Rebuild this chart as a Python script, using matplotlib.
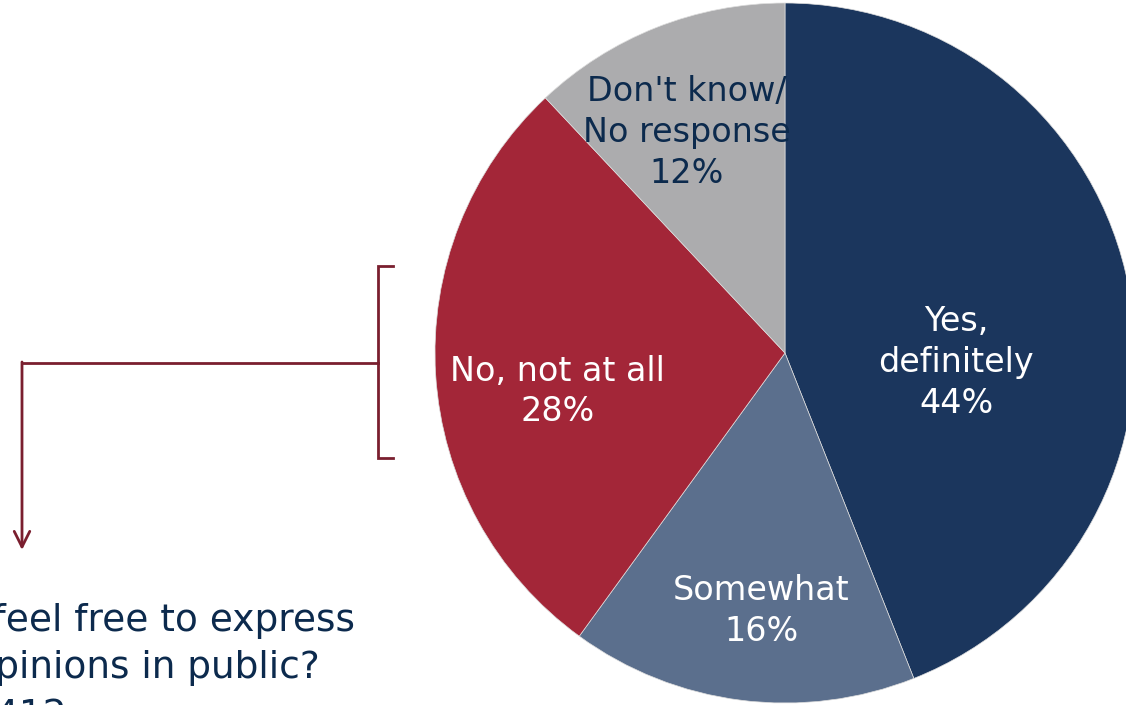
import numpy as np
import matplotlib
matplotlib.use("Agg")
import matplotlib.pyplot as plt

labels = ["Yes,\ndefinitely", "Somewhat", "No, not at all", "Don't know/\nNo response"]
values = [44, 16, 28, 12]
colors = ["#1b365d", "#5b6f8d", "#a32638", "#acacae"]
text_colors = ["white", "white", "white", "#0c2a4d"]
question = ["Do you feel free to express", "your opinions in public?", "n=412"]

W, H = 1126, 705
fig = plt.figure(figsize=(W / 100, H / 100), dpi=100)
ax = fig.add_axes([0, 0, 1, 1])

cx, cy, R = 785, 352, 350
wedges, _ = ax.pie(values, colors=colors, startangle=90, counterclock=False,
                   center=(cx, cy), radius=R,
                   wedgeprops=dict(linewidth=0.5, edgecolor="#dddddd"))

# label placement: fraction of radius and small angle tweak per slice
lab_r = [0.49, 0.74, 0.66, 0.69]
lab_dang = [-14, 2, 6, 2.5]
for w, lab, v, tc, rf, da in zip(wedges, labels, values, text_colors, lab_r, lab_dang):
    ang = np.radians((w.theta1 + w.theta2) / 2 + da)
    x = cx + rf * R * np.cos(ang)
    y = cy + rf * R * np.sin(ang)
    ax.text(x, y, f"{lab}\n{v}%", ha="center", va="center", color=tc,
            fontsize=24, linespacing=1.3)

ax.set_xlim(0, W)
ax.set_ylim(0, H)
ax.set_aspect("equal")
ax.axis("off")

# bracket + connector arrow
bc = "#7a1f2f"
ax.plot([393, 378, 378, 393], [H - 266, H - 266, H - 458, H - 458], color=bc, lw=2, solid_joinstyle="miter")
ax.plot([22, 378], [H - 363, H - 363], color=bc, lw=2)
ax.annotate("", xy=(22, H - 550), xytext=(22, H - 362),
            arrowprops=dict(arrowstyle="->", lw=2, color=bc, mutation_scale=28,
                            shrinkA=0, shrinkB=0))

# question text (runs off the left edge, as in the source)
ends = [355, 320, 67]
bases = [631, 678, 726]
for line, xe, yb in zip(question, ends, bases):
    ax.text(xe, H - yb, line, ha="right", va="baseline", color="#0c2a4d", fontsize=27)

fig.savefig("out.png", dpi=100)
